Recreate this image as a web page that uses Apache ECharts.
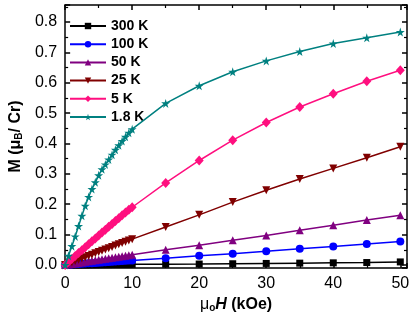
<!DOCTYPE html>
<html>
<head>
<meta charset="utf-8">
<script src="https://cdn.jsdelivr.net/npm/echarts@6/dist/echarts.min.js"></script>
<style>
html,body{margin:0;padding:0;background:#fff;}
#c{width:415px;height:318px;}
</style>
</head>
<body>
<div id="c"></div>
<script>
// Field values (kOe)
const H = [0,0.5,1,1.5,2,2.5,3,3.5,4,4.5,5,5.5,6,6.5,7,7.5,8,8.5,9,9.5,10,15,20,25,30,35,40,45,50];

// Series names
const names = ['300 K','100 K','50 K','25 K','5 K','1.8 K'];

// Magnetization (muB / Cr)
const M300 = [0,0.0001,0.0002,0.0003,0.0004,0.0005,0.0006,0.0007,0.0008,0.0009,0.001,0.0011,0.0012,0.0013,0.0014,0.0015,0.0016,0.0017,0.0018,0.0019,0.002,0.0025,0.003,0.004,0.005,0.006,0.007,0.008,0.010];
const M100 = [0,0.0008,0.0015,0.0023,0.003,0.0038,0.0045,0.0053,0.006,0.0068,0.0075,0.0083,0.009,0.0098,0.0105,0.0113,0.012,0.0128,0.0135,0.0143,0.015,0.022,0.030,0.037,0.045,0.053,0.061,0.069,0.077];
const M50 = [0,0.0017,0.0034,0.0051,0.0068,0.0085,0.0102,0.0119,0.0136,0.0153,0.017,0.0187,0.0204,0.0221,0.0238,0.0255,0.0272,0.0289,0.0306,0.0323,0.034,0.050,0.065,0.081,0.097,0.114,0.131,0.148,0.164];
const M25 = [0,0.0043,0.0085,0.0128,0.017,0.0213,0.0255,0.0298,0.034,0.0383,0.0425,0.0468,0.051,0.0553,0.0595,0.0638,0.068,0.0723,0.0765,0.0808,0.085,0.125,0.165,0.207,0.246,0.283,0.318,0.353,0.389];
const M5 = [0,0.0097,0.0195,0.0292,0.039,0.0487,0.0584,0.068,0.0777,0.0873,0.097,0.1065,0.116,0.1255,0.135,0.1445,0.154,0.1633,0.1726,0.1818,0.19,0.270,0.344,0.411,0.469,0.520,0.564,0.605,0.641];
const M18 = [0,0.03,0.062,0.094,0.128,0.162,0.195,0.224,0.25,0.272,0.295,0.315,0.331,0.347,0.363,0.379,0.394,0.408,0.422,0.435,0.447,0.532,0.590,0.636,0.672,0.703,0.729,0.748,0.767];

const xTicks = [0,10,20,30,40,50];
const yTicks = [0,0.1,0.2,0.3,0.4,0.5,0.6,0.7,0.8];

const allM = [M300,M100,M50,M25,M5,M18];
const colors = ['#000000','#0000FF','#800080','#800000','#FF0F7F','#008080'];
const STAR = 'path://M50,0 L61,35 L98,35 L68,57 L79,91 L50,70 L21,91 L32,57 L2,35 L39,35 Z';
const symbols = [
  {symbol:'rect', size:7, rot:0},
  {symbol:'circle', size:8, rot:0},
  {symbol:'triangle', size:8, rot:0},
  {symbol:'triangle', size:8, rot:180},
  {symbol:'diamond', size:[9,10], rot:0},
  {symbol:STAR, size:9, rot:0}
];

const FONT = '"Liberation Sans", Arial, sans-serif';

const series = names.map((n,i)=>({
  name:n, type:'line',
  data: H.map((h,j)=>[h, allM[i][j]]),
  symbol: symbols[i].symbol,
  symbolSize: symbols[i].size,
  symbolRotate: symbols[i].rot,
  showAllSymbol: true,
  lineStyle:{color:colors[i], width:1.5},
  itemStyle:{color:colors[i]},
  color: colors[i],
  animation:false,
  xAxisIndex:0, yAxisIndex:0,
  z: 2+i
}));

const axisLineStyle = {color:'#000', width:1.5};

const chart = echarts.init(document.getElementById('c'), null, {renderer:'canvas'});
chart.setOption({
  backgroundColor:'#fff',
  animation:false,
  grid:{left:62, right:8, top:5, bottom:49},
  legend:{
    orient:'vertical', left:64, top:13,
    itemWidth:36, itemHeight:8, itemGap:2.2,
    lineStyle:{width:2},
    textStyle:{fontFamily:FONT, fontWeight:'bold', fontSize:14, color:'#000', lineHeight:16},
    data:names
  },
  xAxis:[{
    type:'value', min:0, max:51, splitNumber:5,
    position:'bottom',
    axisLine:{show:true, onZero:false, lineStyle:axisLineStyle},
    axisTick:{show:true, inside:true, length:5, lineStyle:axisLineStyle},
    minorTick:{show:true, splitNumber:2, length:3, lineStyle:{color:'#000', width:1.2}},
    splitLine:{show:false},
    axisLabel:{fontFamily:FONT, fontSize:16, color:'#000', margin:8, showMaxLabel:false,
      formatter:v=> xTicks.includes(v) ? String(v) : ''},
    name:'{m|μ}{s|o}{i|H}{b| (kOe)}',
    nameLocation:'middle', nameGap:25,
    nameTextStyle:{
      rich:{
        m:{fontFamily:FONT, fontSize:16, color:'#000', lineHeight:20, verticalAlign:'bottom'},
        s:{fontFamily:FONT, fontSize:10, color:'#000', lineHeight:10, verticalAlign:'bottom', fontWeight:'bold'},
        i:{fontFamily:FONT, fontSize:16, fontWeight:'bold', fontStyle:'italic', color:'#000', lineHeight:20, verticalAlign:'bottom'},
        b:{fontFamily:FONT, fontSize:16, fontWeight:'bold', color:'#000', lineHeight:20, verticalAlign:'bottom'}
      }
    }
  },{
    type:'value', min:0, max:51, splitNumber:5,
    position:'top',
    axisLine:{show:true, onZero:false, lineStyle:axisLineStyle},
    axisTick:{show:true, inside:true, length:5, lineStyle:axisLineStyle},
    minorTick:{show:true, splitNumber:2, length:3, lineStyle:{color:'#000', width:1.2}},
    splitLine:{show:false},
    axisLabel:{show:false}
  }],
  yAxis:[{
    type:'value', min:-0.01, max:0.856, splitNumber:9,
    position:'left',
    axisLine:{show:true, onZero:false, lineStyle:axisLineStyle},
    axisTick:{show:true, inside:true, length:5, lineStyle:axisLineStyle},
    minorTick:{show:true, splitNumber:2, length:3, lineStyle:{color:'#000', width:1.2}},
    splitLine:{show:false},
    axisLabel:{fontFamily:FONT, fontSize:16, color:'#000', margin:8, showMinLabel:false, showMaxLabel:false,
      formatter:v=>{ const r=Math.round(v*10)/10; return (Math.abs(v-r)<1e-6 && yTicks.includes(r)) ? r.toFixed(1) : ''; }},
    name:'{b|M (}{m|μ}{s|B}{b|/ Cr)}',
    nameLocation:'middle', nameGap:37, nameRotate:90,
    nameTextStyle:{
      rich:{
        m:{fontFamily:FONT, fontSize:16, color:'#000', lineHeight:20, verticalAlign:'bottom', fontWeight:'bold'},
        s:{fontFamily:FONT, fontSize:10, color:'#000', lineHeight:10, verticalAlign:'bottom', fontWeight:'bold'},
        b:{fontFamily:FONT, fontSize:16, fontWeight:'bold', color:'#000', lineHeight:20, verticalAlign:'bottom'}
      }
    }
  },{
    type:'value', min:-0.01, max:0.856, splitNumber:9,
    position:'right',
    axisLine:{show:true, onZero:false, lineStyle:axisLineStyle},
    axisTick:{show:true, inside:true, length:5, lineStyle:axisLineStyle},
    minorTick:{show:true, splitNumber:2, length:3, lineStyle:{color:'#000', width:1.2}},
    splitLine:{show:false},
    axisLabel:{show:false}
  }],
  series: series
});
</script>
</body>
</html>
